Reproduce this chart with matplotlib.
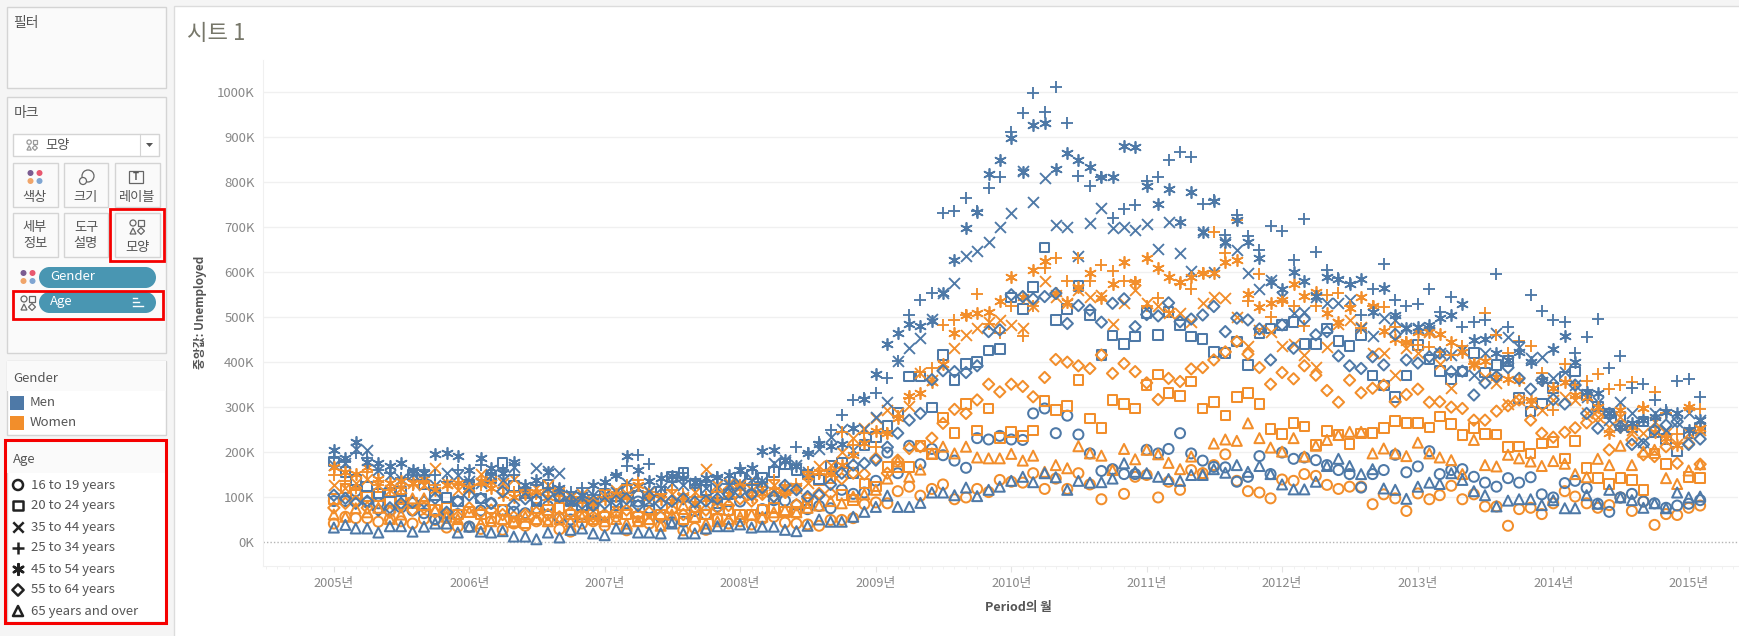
import datetime

import matplotlib
matplotlib.use('Agg')
import matplotlib.dates as mdates
import matplotlib.pyplot as plt
import pandas as pd
from matplotlib.patches import Circle, Polygon, Rectangle

plt.rcParams['font.family'] = ['Noto Sans CJK KR', 'DejaVu Sans']

months = pd.date_range('2005-01-01', periods=122, freq='MS')
age_labels = ['16 to 19 years', '20 to 24 years', '35 to 44 years', '25 to 34 years',
              '45 to 54 years', '55 to 64 years', '65 years and over']
gender_labels = ['Men', 'Women']
y_ticks = [0, 100, 200, 300, 400, 500, 600, 700, 800, 900, 1000]

# unemployed, thousands
men_16_19 = [90, 90, 112, 87, 85, 69, 76, 69, 63, 50, 53, 61,
             33, 69, 85, 70, 66, 63, 74, 79, 52, 49, 60, 66,
             57, 100, 85, 89, 74, 54, 43, 44, 68, 60, 78, 68,
             89, 106, 72, 92, 91, 81, 72, 79, 74, 115, 106, 109,
             135, 198, 152, 213, 172, 206, 192, 180, 164, 230, 227, 235,
             227, 226, 285, 296, 241, 280, 238, 196, 157, 161, 150, 150,
             204, 196, 206, 241, 196, 180, 166, 165, 133, 144, 190, 150,
             198, 184, 187, 181, 170, 159, 150, 120, 150, 159, 193, 154,
             167, 201, 150, 159, 161, 144, 131, 122, 141, 131, 143, 105,
             98, 130, 135, 119, 84, 66, 98, 106, 89, 85, 75, 80,
             84, 92]
men_20_24 = [178, 154, 137, 122, 107, 109, 111, 148, 127, 103, 98, 89,
             127, 96, 141, 174, 124, 107, 89, 127, 100, 89, 81, 85,
             107, 80, 118, 101, 89, 111, 144, 152, 129, 115, 85, 106,
             141, 149, 142, 154, 172, 159, 149, 138, 168, 174, 152, 215,
             233, 257, 287, 367, 367, 298, 415, 359, 395, 399, 425, 428,
             543, 517, 566, 654, 493, 517, 569, 504, 415, 458, 439, 456,
             508, 459, 511, 482, 456, 451, 422, 419, 445, 393, 463, 474,
             482, 489, 439, 439, 474, 446, 435, 460, 369, 347, 322, 369,
             437, 405, 380, 362, 378, 419, 376, 393, 402, 320, 289, 307,
             341, 367, 378, 326, 300, 285, 278, 255, 267, 244, 228, 200,
             241, 252]
men_35_44 = [170, 175, 205, 204, 160, 148, 140, 150, 140, 126, 152, 148,
             135, 130, 148, 137, 166, 110, 163, 157, 152, 103, 100, 103,
             105, 110, 130, 120, 112, 118, 130, 125, 130, 120, 118, 125,
             130, 140, 135, 175, 181, 170, 155, 205, 232, 250, 204, 250,
             276, 311, 402, 430, 452, 494, 552, 575, 636, 647, 667, 700,
             732, 825, 756, 808, 704, 700, 636, 708, 743, 698, 700, 693,
             706, 650, 710, 643, 603, 689, 600, 667, 648, 598, 561, 582,
             545, 508, 511, 545, 530, 530, 537, 474, 457, 497, 493, 476,
             474, 471, 419, 415, 426, 370, 419, 463, 456, 433, 408, 411,
             363, 378, 348, 322, 311, 270, 311, 285, 222, 285, 248, 267,
             285, 270]
men_25_34 = [185, 178, 196, 185, 159, 152, 142, 148, 159, 148, 133, 159,
             133, 170, 148, 159, 148, 111, 126, 118, 103, 111, 118, 103,
             129, 148, 168, 192, 172, 122, 144, 152, 126, 133, 144, 129,
             163, 126, 133, 166, 174, 211, 196, 222, 248, 281, 315, 320,
             331, 363, 402, 504, 537, 554, 730, 735, 764, 735, 786, 810,
             912, 953, 999, 956, 1011, 932, 814, 790, 812, 719, 740, 749,
             803, 812, 850, 866, 856, 750, 760, 682, 726, 680, 649, 701,
             691, 626, 717, 645, 604, 586, 575, 504, 561, 617, 537, 524,
             528, 561, 511, 545, 478, 488, 493, 595, 478, 445, 548, 514,
             493, 488, 419, 456, 496, 385, 413, 341, 350, 315, 293, 357,
             362, 321]
men_45_54 = [204, 185, 222, 178, 174, 167, 174, 159, 152, 194, 196, 190,
             159, 185, 163, 152, 178, 126, 137, 155, 118, 89, 103, 126,
             133, 148, 190, 159, 135, 141, 146, 141, 133, 141, 144, 148,
             159, 163, 201, 204, 181, 169, 196, 218, 212, 218, 252, 318,
             372, 439, 463, 485, 480, 491, 552, 626, 698, 734, 817, 849,
             897, 823, 927, 931, 828, 864, 850, 834, 812, 812, 880, 877,
             790, 751, 784, 710, 778, 688, 758, 667, 715, 667, 630, 578,
             561, 600, 580, 546, 589, 585, 574, 584, 511, 563, 504, 474,
             477, 482, 497, 504, 528, 448, 451, 419, 404, 422, 399, 359,
             428, 458, 400, 333, 330, 285, 255, 263, 270, 278, 289, 285,
             248, 270]
men_55_64 = [103, 96, 85, 90, 70, 75, 85, 87, 89, 96, 65, 90,
             103, 96, 85, 111, 81, 95, 92, 105, 100, 92, 85, 80,
             85, 90, 95, 80, 100, 85, 90, 95, 88, 90, 95, 105,
             110, 105, 120, 100, 125, 115, 100, 103, 127, 152, 170, 174,
             181, 210, 241, 270, 285, 360, 380, 378, 376, 391, 467, 471,
             549, 545, 540, 545, 552, 485, 525, 515, 488, 530, 540, 478,
             505, 502, 531, 489, 495, 504, 523, 467, 497, 493, 473, 404,
             482, 430, 495, 460, 467, 413, 391, 385, 411, 393, 461, 404,
             397, 411, 419, 378, 379, 326, 353, 367, 387, 363, 339, 359,
             316, 306, 348, 285, 252, 285, 255, 216, 216, 248, 259, 267,
             216, 228]
men_65_over = [31, 37, 29, 29, 20, 34, 34, 22, 33, 40, 40, 20,
               33, 22, 20, 23, 11, 11, 5, 20, 9, 26, 29, 18,
               14, 29, 29, 20, 20, 18, 40, 18, 18, 29, 34, 34,
               38, 31, 33, 33, 26, 23, 35, 49, 44, 44, 55, 66,
               77, 102, 77, 77, 86, 109, 109, 103, 120, 101, 115, 122,
               135, 144, 132, 152, 143, 115, 135, 131, 132, 140, 174, 155,
               152, 144, 139, 135, 148, 148, 161, 153, 170, 155, 168, 150,
               127, 116, 116, 133, 168, 184, 168, 150, 161, 118, 115, 95,
               122, 131, 128, 152, 137, 112, 103, 78, 91, 94, 94, 81,
               92, 74, 74, 103, 84, 115, 98, 92, 75, 85, 74, 109,
               98, 100]

women_16_19 = [40, 55, 52, 52, 44, 50, 45, 40, 50, 48, 31, 33,
               33, 28, 45, 26, 40, 35, 45, 48, 27, 22, 40, 45,
               35, 55, 25, 45, 40, 35, 42, 25, 30, 26, 50, 40,
               45, 38, 50, 55, 42, 40, 38, 35, 48, 48, 52, 83,
               87, 85, 112, 122, 102, 117, 127, 94, 98, 117, 110, 137,
               133, 131, 152, 117, 140, 117, 152, 127, 94, 159, 106, 144,
               148, 98, 133, 115, 159, 152, 170, 194, 135, 112, 109, 96,
               138, 135, 150, 146, 126, 117, 122, 122, 83, 105, 96, 68,
               107, 94, 103, 124, 94, 105, 78, 78, 35, 72, 75, 61,
               85, 112, 100, 85, 75, 81, 98, 68, 89, 37, 61, 59,
               75, 80]
women_20_24 = [95, 118, 105, 100, 100, 90, 95, 85, 80, 70, 75, 60,
               65, 60, 52, 70, 44, 40, 75, 70, 75, 60, 55, 60,
               55, 65, 60, 55, 50, 60, 75, 50, 55, 60, 50, 70,
               60, 59, 70, 75, 66, 65, 85, 137, 140, 103, 92, 129,
               122, 166, 166, 166, 212, 195, 276, 241, 306, 247, 296, 230,
               244, 235, 247, 313, 293, 301, 359, 274, 252, 315, 306, 296,
               348, 372, 330, 324, 356, 296, 311, 280, 322, 330, 306, 250,
               239, 264, 256, 215, 246, 237, 217, 240, 241, 252, 268, 263,
               264, 254, 278, 262, 237, 252, 239, 238, 210, 211, 196, 218,
               222, 185, 224, 164, 141, 128, 141, 137, 115, 196, 172, 200,
               144, 141]
women_35_44 = [125, 120, 130, 140, 125, 115, 120, 130, 125, 163, 130, 115,
               120, 150, 135, 130, 140, 110, 120, 125, 110, 100, 105, 90,
               100, 115, 105, 120, 110, 100, 105, 100, 110, 161, 125, 130,
               125, 115, 120, 125, 118, 120, 130, 167, 170, 200, 230, 252,
               274, 293, 285, 301, 374, 359, 393, 430, 460, 474, 489, 493,
               482, 474, 523, 580, 545, 530, 560, 545, 548, 485, 530, 560,
               530, 523, 508, 508, 489, 530, 545, 541, 500, 434, 470, 467,
               434, 440, 415, 389, 433, 485, 493, 478, 419, 419, 370, 430,
               420, 467, 396, 341, 426, 396, 367, 352, 307, 315, 307, 293,
               315, 322, 315, 285, 278, 255, 278, 248, 241, 267, 241, 218,
               241, 248]
women_25_34 = [148, 135, 120, 155, 125, 115, 120, 125, 130, 125, 133, 129,
               110, 125, 135, 120, 110, 115, 105, 110, 115, 95, 100, 90,
               115, 100, 125, 137, 110, 105, 115, 105, 100, 100, 110, 100,
               125, 128, 122, 137, 125, 129, 155, 150, 160, 244, 215, 241,
               211, 241, 280, 320, 378, 385, 482, 493, 504, 550, 485, 463,
               525, 457, 523, 608, 630, 580, 630, 580, 615, 602, 580, 578,
               523, 541, 511, 574, 561, 597, 689, 641, 715, 535, 595, 500,
               535, 523, 480, 523, 548, 552, 524, 474, 523, 521, 478, 445,
               437, 433, 422, 415, 434, 396, 509, 459, 419, 446, 435, 374,
               293, 396, 348, 357, 373, 339, 348, 356, 300, 333, 285, 240,
               298, 295]
women_45_54 = [165, 155, 150, 165, 140, 130, 135, 130, 140, 115, 125, 130,
               120, 135, 118, 103, 100, 105, 110, 100, 105, 95, 90, 85,
               95, 105, 100, 126, 100, 95, 90, 100, 85, 95, 90, 105,
               120, 100, 107, 115, 110, 120, 145, 155, 150, 170, 192, 220,
               245, 241, 275, 324, 330, 356, 396, 465, 504, 509, 511, 535,
               588, 545, 605, 624, 552, 534, 567, 598, 541, 572, 621, 578,
               630, 608, 588, 578, 589, 598, 598, 623, 626, 550, 521, 531,
               537, 574, 546, 556, 508, 489, 520, 543, 523, 468, 450, 445,
               467, 467, 461, 445, 422, 396, 402, 367, 362, 359, 315, 359,
               341, 356, 326, 322, 300, 241, 293, 255, 296, 244, 230, 215,
               300, 252]
women_55_64 = [75, 85, 90, 75, 70, 65, 80, 70, 75, 65, 60, 55,
               75, 65, 70, 60, 55, 60, 65, 60, 55, 65, 60, 55,
               60, 65, 70, 60, 65, 55, 70, 60, 75, 70, 75, 80,
               95, 90, 105, 100, 110, 82, 95, 107, 107, 140, 152, 150,
               185, 152, 181, 207, 211, 230, 263, 294, 285, 315, 350, 333,
               350, 345, 322, 365, 405, 399, 391, 385, 415, 374, 396, 378,
               353, 316, 363, 356, 384, 387, 404, 422, 445, 417, 387, 350,
               376, 362, 391, 370, 336, 310, 359, 331, 341, 348, 311, 327,
               339, 310, 311, 299, 296, 270, 270, 290, 302, 315, 270, 241,
               232, 243, 253, 264, 278, 204, 255, 226, 193, 189, 211, 174,
               218, 172]
women_65_over = [60, 55, 74, 65, 75, 50, 60, 96, 96, 70, 55, 50,
                 66, 40, 45, 50, 45, 55, 50, 45, 50, 45, 55, 50,
                 45, 50, 40, 45, 50, 35, 60, 81, 55, 40, 45, 50,
                 55, 60, 55, 65, 70, 65, 75, 80, 90, 85, 100, 105,
                 115, 140, 178, 144, 160, 196, 211, 196, 211, 187, 185, 185,
                 195, 180, 191, 155, 170, 163, 212, 196, 191, 159, 206, 183,
                 204, 194, 175, 161, 189, 152, 218, 227, 224, 263, 230, 209,
                 200, 230, 189, 213, 226, 237, 244, 244, 196, 207, 196, 190,
                 220, 196, 187, 181, 150, 226, 170, 167, 193, 185, 178, 168,
                 179, 173, 150, 143, 184, 170, 213, 170, 200, 204, 141, 128,
                 158, 172]

BLUE = '#4e79a7'
ORANGE = '#f28e2b'
RED = '#f50000'
PILL = '#4996b2'
GREY_TEXT = '#555555'
TICK_TEXT = '#888888'

# marker, size, stroke width, outline or plain strokes
shapes = [('o', 52, 1.45, True), ('s', 48, 1.45, True), ('x', 62, 1.35, False), ('+', 84, 1.35, False),
          ((6, 2, 0), 66, 1.25, False), ('D', 33, 1.45, True), ('^', 52, 1.45, True)]

men = [men_16_19, men_20_24, men_35_44, men_25_34, men_45_54, men_55_64, men_65_over]
women = [women_16_19, women_20_24, women_35_44, women_25_34, women_45_54, women_55_64, women_65_over]

fig = plt.figure(figsize=(17.4, 6.36), dpi=100, facecolor='#f5f5f5')

# whole figure in pixels, for the side panels
bg = fig.add_axes([0, 0, 1, 1])
bg.set_xlim(0, 1740)
bg.set_ylim(636, 0)
bg.axis('off')


def box(x0, y0, x1, y1, face='#fafafa', edge='#d4d4d4', lw=1.0, zorder=1):
    bg.add_patch(Rectangle((x0, y0), x1 - x0, y1 - y0, facecolor=face, edgecolor=edge, linewidth=lw, zorder=zorder))


def label(x, y, s, size=9.5, color=GREY_TEXT, ha='left', **kw):
    bg.text(x, y + 1, s, fontsize=size, color=color, ha=ha, va='center', zorder=5, **kw)


def dots_icon(cx, cy):
    for dx, dy, c in [(-4.5, -4, '#7b5c91'), (4.5, -4, '#e8586f'), (-4.5, 4, '#f0a56a'), (4.5, 4, '#7fa5d2')]:
        bg.add_patch(Circle((cx + dx, cy + dy), 3, facecolor=c, edgecolor='none', zorder=5))


def shape_icon(cx, cy, color='#666666', k=1.0):
    kw = dict(facecolor='none', edgecolor=color, linewidth=0.9, zorder=5)
    bg.add_patch(Circle((cx - 4 * k, cy - 4 * k), 3 * k, **kw))
    bg.add_patch(Rectangle((cx + 1.5 * k, cy - 7 * k), 5.5 * k, 5.5 * k, **kw))
    bg.add_patch(Polygon([(cx - 7 * k, cy + 7 * k), (cx - 1 * k, cy + 7 * k), (cx - 4 * k, cy + 1 * k)], closed=True, **kw))
    bg.add_patch(Polygon([(cx + 4 * k, cy + 0.5 * k), (cx + 7.5 * k, cy + 4 * k), (cx + 4 * k, cy + 7.5 * k),
                          (cx + 0.5 * k, cy + 4 * k)], closed=True, **kw))


# main white sheet
box(174, 6, 1741, 640, face='white', edge='#dcdcdc')

# filter panel
box(7, 7, 166, 88)
label(13, 22, '필터', size=10)

# marks panel
box(7, 97, 166, 353)
label(14, 112, '마크', size=10)
box(13, 134, 159, 156, face='white')
bg.plot([140, 140], [134, 156], color='#d4d4d4', lw=0.8, zorder=3)
shape_icon(32, 145, '#999999', k=0.72)
label(45, 144, '모양')
bg.add_patch(Polygon([(146, 143), (153, 143), (149.5, 147)], closed=True, facecolor='#555555', zorder=5))

button_xs = [(13, 58), (64, 108), (115, 160)]
for x0, x1 in button_xs:
    box(x0, 163, x1, 207)
    box(x0, 213, x1, 257)
dots_icon(35, 177)
label(35, 196, '색상', ha='center')
bg.add_patch(Circle((88, 176), 6, facecolor='none', edgecolor='#666666', lw=0.9, zorder=5))
bg.add_patch(Circle((83, 181), 3.5, facecolor='#fafafa', edgecolor='#666666', lw=0.9, zorder=6))
label(86, 196, '크기', ha='center')
box(129, 171, 143, 183, face='none', edge='#666666', lw=0.9, zorder=5)
label(136, 176, 'T', size=7, color='#555555', ha='center', weight='bold')
label(137, 196, '레이블', ha='center')
label(35, 226, '세부', ha='center')
label(35, 242, '정보', ha='center')
label(86, 226, '도구', ha='center')
label(86, 242, '설명', ha='center')
shape_icon(137, 227)
label(137, 246, '모양', ha='center')
box(110, 209, 164, 261, face='none', edge=RED, lw=2.0, zorder=6)

# pills
for y0, name in [(267, 'Gender'), (292, 'Age')]:
    bg.add_patch(Rectangle((49.5, y0), 96, 21, facecolor=PILL, edgecolor='none', zorder=4))
    bg.add_patch(Circle((49.5, y0 + 10.5), 10.5, facecolor=PILL, edgecolor='none', zorder=4))
    bg.add_patch(Circle((145.5, y0 + 10.5), 10.5, facecolor=PILL, edgecolor='none', zorder=4))
    label(50, y0 + 9, name, size=9.5, color='white')
dots_icon(28, 277)
shape_icon(28, 303)
for dy, wid in [(-4, 4), (0, 6), (4, 10)]:
    bg.plot([133, 133 + wid], [302 + dy, 302 + dy], color='white', lw=1.0, zorder=6)
box(13, 291, 163, 319, face='none', edge=RED, lw=2.0, zorder=6)

# gender legend
box(7, 361, 166, 435, face='white')
box(7, 361, 166, 391, face='#fafafa', edge='none')
label(13, 377, 'Gender')
for y, name, c in zip([403, 423], gender_labels, [BLUE, ORANGE]):
    bg.add_patch(Rectangle((10, y - 7), 14, 14, facecolor=c, edgecolor='none', zorder=5))
    label(30, y - 1, name)

# age legend
box(7, 441, 166, 622, face='white')
box(7, 441, 166, 473, face='#fafafa', edge='none')
label(13, 458, 'Age')
legend_ys = [485, 505.5, 527, 548, 569, 590, 611]
for y, name, (m, s, w, filled) in zip(legend_ys, age_labels, shapes):
    if filled:
        bg.scatter([18], [y], marker=m, s=s, facecolors='none', edgecolors='#222222', linewidths=1.8, zorder=5)
    else:
        bg.scatter([18], [y], marker=m, s=s * 0.9, color='#222222', linewidths=1.8, zorder=5)
    label(31, y - 1, name)
box(5, 440, 166, 623, face='none', edge=RED, lw=2.2, zorder=6)

# sheet title and axis titles
label(187, 32, '시트 1', size=16, color='#77776a')
label(201, 311, '중앙값: Unemployed', size=8.5, color='#555555', rotation=90, ha='center', weight='bold')
label(1018, 606, 'Period의 월', size=9, color='#555555', ha='center', weight='bold')

# chart
ax = fig.add_axes([263 / 1740, 1 - 566 / 636, (1738 - 263) / 1740, (566 - 60) / 636])
ax.patch.set_alpha(0)
for women_vals, men_vals, (m, s, w, filled) in zip(women, men, shapes):
    for vals, c in [(women_vals, ORANGE), (men_vals, BLUE)]:
        if filled:
            ax.scatter(months, vals, marker=m, s=s, facecolors='none', edgecolors=c, linewidths=w, zorder=3, clip_on=False)
        else:
            ax.scatter(months, vals, marker=m, s=s, color=c, linewidths=w, zorder=3, clip_on=False)

start = mdates.date2num(datetime.date(2005, 1, 1))
ax.set_xlim(start - 191, start + 3785)
ax.set_ylim(-54.5, 1071.4)
ax.set_yticks(y_ticks)
ax.set_yticklabels([f'{v}K' for v in y_ticks])
ax.xaxis.set_major_locator(mdates.YearLocator())
ax.xaxis.set_minor_locator(mdates.MonthLocator())
ax.xaxis.set_major_formatter(mdates.DateFormatter('%Y년'))
ax.tick_params(axis='y', length=0, labelsize=9.5, labelcolor=TICK_TEXT, pad=6)
ax.tick_params(axis='x', which='major', length=4, color='#e4e4e4', labelsize=9.2, labelcolor=TICK_TEXT, pad=4)
ax.tick_params(axis='x', which='minor', length=2, color='#efefef')
ax.grid(axis='y', color='#f0f0f0', lw=1.0, zorder=0)
ax.get_ygridlines()[0].set_visible(False)
ax.axhline(0, color='#b4b4b4', lw=1.0, ls=(0, (1, 1.5)), zorder=2)
for side in ['top', 'right']:
    ax.spines[side].set_visible(False)
for side in ['left', 'bottom']:
    ax.spines[side].set_color('#f0f0f0')

fig.savefig('out.png', dpi=100, facecolor=fig.get_facecolor())
